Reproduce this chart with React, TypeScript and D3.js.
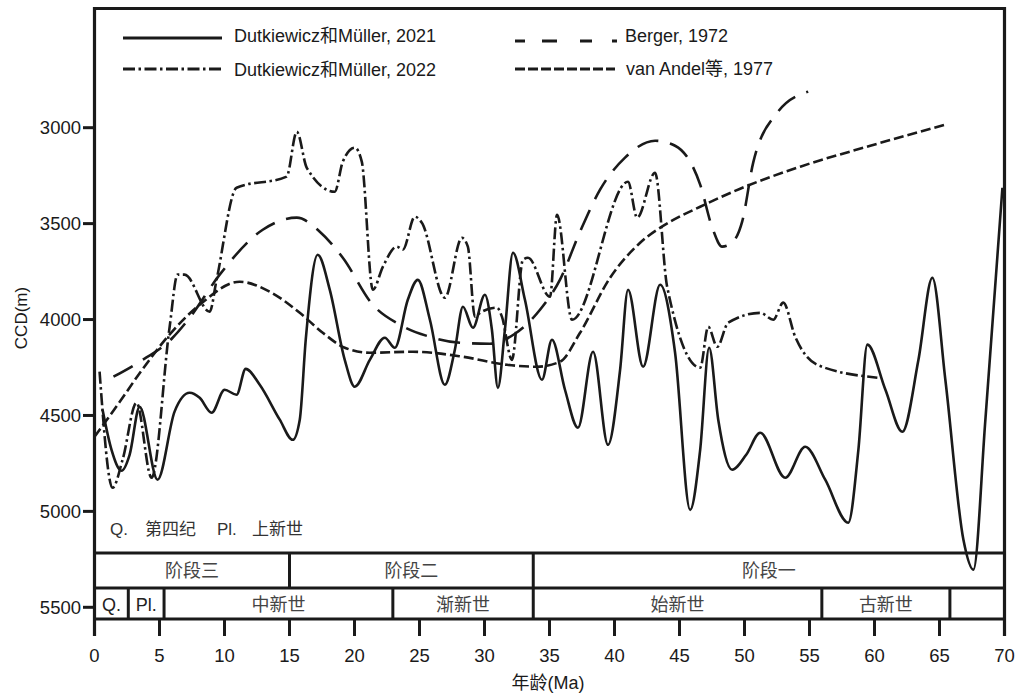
import * as d3 from 'd3'

const W = 1019
const H = 696

// 年龄 (Ma) / CCD (m) 读图数据
const dm2021: [number, number][] = [
  [0.62, 4470], [1.31, 4679], [2.08, 4788], [2.7, 4705], [3.47, 4455], [4.85, 4835],
  [6.16, 4480], [7.32, 4382], [8.09, 4408], [9.01, 4486], [10.01, 4366], [10.93, 4392],
  [11.63, 4257], [12.71, 4340], [14.25, 4522], [15.25, 4627], [15.79, 4522], [16.25, 4105],
  [17.17, 3662], [18.1, 3845], [19.25, 4210], [20.02, 4350], [21.18, 4210], [22.33, 4095],
  [23.1, 4147], [24.1, 3897], [24.87, 3793], [25.8, 4001], [26.95, 4340], [27.72, 4157],
  [28.34, 3933], [29.11, 4043], [30.03, 3871], [30.57, 4053], [31.03, 4356], [31.57, 4053],
  [32.19, 3652], [33.11, 3897], [34.42, 4314], [35.19, 4105], [36.19, 4366], [37.19, 4564],
  [38.35, 4168], [39.5, 4653], [40.43, 4262], [41.04, 3845], [42.2, 4246], [43.51, 3819],
  [44.66, 4173], [45.82, 4992], [46.59, 4679], [47.28, 4147], [47.98, 4522], [49.05, 4783],
  [50.13, 4705], [51.21, 4590], [53.13, 4825], [54.67, 4663], [56.21, 4835], [57.98, 5059],
  [58.76, 4679], [59.45, 4131], [60.84, 4366], [62.14, 4585], [63.38, 4210], [64.45, 3782],
  [65.45, 4314], [66.84, 5148], [67.61, 5304], [68.53, 4522], [69.84, 3313],
]

const dm2022: [number, number][] = [
  [0.39, 4272], [1.39, 4877], [2.16, 4731], [3.23, 4434], [4.39, 4825], [5.78, 4038],
  [6.39, 3766], [6.93, 3766], [8.86, 3959], [9.39, 3793], [10.93, 3313], [14.78, 3255],
  [15.56, 3021], [16.33, 3209], [18.48, 3334], [19.1, 3177], [20.02, 3104], [20.56, 3177],
  [21.41, 3845], [22.18, 3725], [23.26, 3620], [23.72, 3636], [24.64, 3464], [25.18, 3495],
  [26.95, 3886], [28.26, 3574], [28.72, 3620], [29.26, 3985], [29.65, 3965], [30.96, 3938],
  [31.34, 3985], [32.11, 4210], [32.96, 3688], [33.34, 3678], [35.04, 3881], [35.58, 3454],
  [36.73, 4001], [41.04, 3282], [41.74, 3469], [43.12, 3235], [44.05, 3829], [46.59, 4251],
  [47.21, 4038], [47.9, 4142], [48.74, 4017], [51.21, 3965], [52.21, 4001], [52.98, 3912],
  [53.9, 4090], [55.6, 4236], [60.22, 4303],
]

const berger1972: [number, number][] = [
  [1.46, 4298], [3.47, 4220], [6.01, 4095], [7.32, 3991], [9.63, 3766], [12.94, 3532],
  [15.56, 3469], [17.33, 3542], [19.1, 3678], [21.41, 3923], [23.49, 4027], [25.8, 4090],
  [28.11, 4121], [30.42, 4126], [32.34, 4074], [34.27, 3949], [35.81, 3792], [37.35, 3542],
  [38.89, 3323], [40.81, 3156], [43.12, 3068], [44.66, 3094], [46.59, 3297], [47.52, 3521],
  [48.28, 3620], [49.05, 3599], [49.82, 3490], [50.67, 3182], [52.52, 2922], [54.9, 2812],
]

const vanAndel1977: [number, number][] = [
  [0, 4611], [1.93, 4430], [3.47, 4280], [6.01, 4060], [8.09, 3923], [11.17, 3803],
  [13.48, 3855], [15.79, 3965], [17.56, 4069], [19.25, 4147], [21.18, 4173], [24.49, 4168],
  [28.34, 4194], [31.73, 4236], [34.04, 4246], [35.81, 4220], [37.35, 4069], [39.66, 3782],
  [41.97, 3600], [44.28, 3490], [46.59, 3412], [49.67, 3318], [54.29, 3203], [59.68, 3094],
  [65.46, 2984],
]

const ageTicks = d3.range(0, 75, 5)
const depthTicks = [3000, 3500, 4000, 4500, 5000, 5500]

const stageNames = ['阶段三', '阶段二', '阶段一']
const stageBounds = [0, 15, 33.75, 70]
const epochNames = ['Q.', 'Pl.', '中新世', '渐新世', '始新世', '古新世', '']
const epochBounds = [0, 2.6, 5.35, 22.95, 33.75, 55.95, 65.8, 70]

const LATIN = '"Liberation Sans", Arial, sans-serif'
const CJK = '"Liberation Sans", "Noto Sans CJK SC", sans-serif'

const x = d3.scaleLinear().domain([0, 70]).range([94.5, 1004.5])
const y = d3.scaleLinear().domain([3000, 5500]).range([127.7, 607.3])

const TOP = 8.5
const ROW1 = 553
const ROW2 = 588
const BOTTOM = 619

const line = d3.line<[number, number]>()
  .x(d => x(d[0]))
  .y(d => y(d[1]))
  .curve(d3.curveMonotoneX)

const series = [
  { data: dm2021, dash: null, legendDash: null, label: 'Dutkiewicz和Müller, 2021' },
  { data: dm2022, dash: '12,3.5,2.5,3.5', legendDash: '12,3.5,2.5,3.5', label: 'Dutkiewicz和Müller, 2022' },
  { data: berger1972, dash: '22,12', legendDash: '10,17,15,23,12,20,6,10', label: 'Berger, 1972' },
  { data: vanAndel1977, dash: '10,4', legendDash: '10,3', label: 'van Andel等, 1977' },
]

export default function App() {
  const ink = '#1a1a1a'
  const grey = '#444'
  const legendPos = [
    { x0: 123, x1: 222, ly: 38, tx: 234, ty: 42 },
    { x0: 123, x1: 222, ly: 69, tx: 234, ty: 76 },
    { x0: 515, x1: 617, ly: 41, tx: 625, ty: 42 },
    { x0: 515, x1: 615, ly: 69, tx: 626, ty: 75 },
  ]
  return (
    <svg width={W} height={H} style={{ position: 'absolute', left: 0, top: 0, background: '#fff' }}>
      {/* curves */}
      {series.map((s, i) => (
        <path key={i} d={line(s.data) || ''} fill="none" stroke={ink} strokeWidth={2.6}
          strokeDasharray={s.dash || undefined} strokeLinejoin="round" />
      ))}

      {/* frame */}
      <path d={`M${x(0)},${BOTTOM + 17}V${TOP}H${x(70)}V${BOTTOM + 17}`} fill="none" stroke={ink} strokeWidth={3.2} />
      {[ROW1, ROW2, BOTTOM].map(v => (
        <line key={v} x1={x(0)} x2={x(70)} y1={v} y2={v} stroke={ink} strokeWidth={3} />
      ))}

      {/* stage row */}
      {stageNames.map((n, i) => (
        <g key={n}>
          {i > 0 && <line x1={x(stageBounds[i])} x2={x(stageBounds[i])} y1={ROW1} y2={ROW2} stroke={ink} strokeWidth={3} />}
          <text x={(x(stageBounds[i]) + x(stageBounds[i + 1])) / 2} y={ROW1 + 24} textAnchor="middle"
            fontFamily={CJK} fontSize={18} fill={grey}>{n}</text>
        </g>
      ))}

      {/* epoch row */}
      {epochNames.map((n, i) => (
        <g key={i}>
          {i > 0 && <line x1={x(epochBounds[i])} x2={x(epochBounds[i])} y1={ROW2} y2={BOTTOM} stroke={ink} strokeWidth={3} />}
          <text x={(x(epochBounds[i]) + x(epochBounds[i + 1])) / 2} y={ROW2 + 23} textAnchor="middle"
            fontFamily={CJK} fontSize={18} fill={i < 2 ? '#222' : grey}>{n}</text>
        </g>
      ))}

      <text x={110} y={535} fontFamily={CJK} fontSize={17} fill="#333">
        <tspan>Q.</tspan>
        <tspan x={145}>第四纪</tspan>
        <tspan x={217}>Pl.</tspan>
        <tspan x={252}>上新世</tspan>
      </text>

      {/* x axis */}
      {ageTicks.map(t => (
        <g key={t}>
          <line x1={x(t)} x2={x(t)} y1={BOTTOM} y2={BOTTOM + 17} stroke={ink} strokeWidth={3} />
          <text x={x(t)} y={662} textAnchor="middle" fontFamily={LATIN} fontSize={18.5} fill={ink}>{t}</text>
        </g>
      ))}
      <text x={548} y={689} textAnchor="middle" fontFamily={CJK} fontSize={18} fill={ink}>年龄(Ma)</text>

      {/* y axis */}
      {depthTicks.map(t => (
        <g key={t}>
          <line x1={83} x2={x(0)} y1={y(t)} y2={y(t)} stroke={ink} strokeWidth={3} />
          <text x={81} y={y(t) + 6.5} textAnchor="end" fontFamily={LATIN} fontSize={18.5} fill={ink}>{t}</text>
        </g>
      ))}
      <text transform="translate(27,318) rotate(-90)" textAnchor="middle" fontFamily={LATIN} fontSize={17} fill={ink}>CCD(m)</text>

      {/* legend */}
      {series.map((s, i) => {
        const p = legendPos[i]
        return (
          <g key={i}>
            <line x1={p.x0} x2={p.x1} y1={p.ly} y2={p.ly} stroke={ink} strokeWidth={2.8}
              strokeDasharray={s.legendDash || undefined} />
            <text x={p.tx} y={p.ty} fontFamily={CJK} fontSize={18} fill={ink}>{s.label}</text>
          </g>
        )
      })}
    </svg>
  )
}
